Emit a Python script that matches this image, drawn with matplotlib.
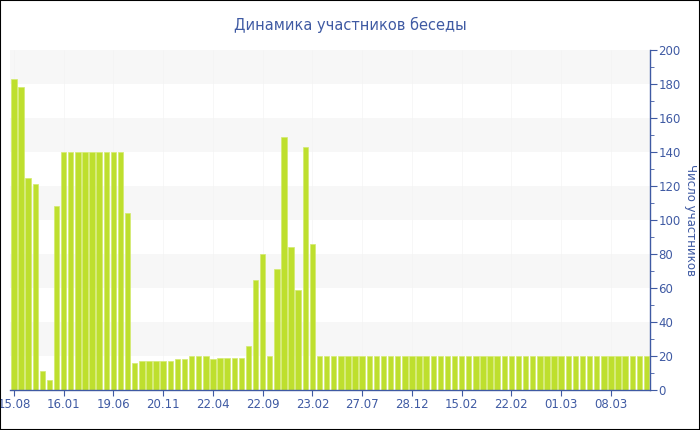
import matplotlib.pyplot as plt
from matplotlib.ticker import MultipleLocator
from matplotlib.patches import Rectangle

# participants per period
counts = [183, 178, 125, 121, 11, 6, 108, 140, 140, 140,
          140, 140, 140, 140, 140, 140, 104, 16, 17, 17,
          17, 17, 17, 18, 18, 20, 20, 20, 18, 19,
          19, 19, 19, 26, 65, 80, 20, 71, 149, 84,
          59, 143, 86] + [20] * 47
tick_pos = [0, 7, 14, 21, 28, 35, 42, 49, 56, 63, 70, 77, 84]
tick_labels = ["15.08", "16.01", "19.06", "20.11", "22.04", "22.09", "23.02",
               "27.07", "28.12", "15.02", "22.02", "01.03", "08.03"]

blue = "#3f5aa3"
bar_color = "#bedf2e"

plt.rcParams["font.family"] = ["DejaVu Sans"]
fig = plt.figure(figsize=(7, 4.3), dpi=100)
ax = fig.add_axes([10 / 700, 40 / 430, 640 / 700, 340 / 430])

# alternating background bands
for lo in range(20, 200, 40):
    ax.axhspan(lo, lo + 20, color="#f7f7f7", zorder=0, lw=0)
for p in tick_pos:
    ax.axvline(p, color="#f4f4f4", lw=0.5, zorder=0.5)

x = list(range(len(counts)))
ax.bar(x, counts, width=0.76, color=bar_color, edgecolor="#d3ea6e",
       linewidth=0.5, zorder=2)

ax.set_xlim(-0.55, len(counts) - 0.5)
ax.set_ylim(0, 200)

ax.yaxis.tick_right()
ax.yaxis.set_label_position("right")
ax.yaxis.set_major_locator(MultipleLocator(20))
ax.yaxis.set_minor_locator(MultipleLocator(10))
ax.set_xticks(tick_pos)
ax.set_xticklabels(tick_labels)

for side in ["left", "top"]:
    ax.spines[side].set_visible(False)
for side in ["right", "bottom"]:
    ax.spines[side].set_color(blue)
    ax.spines[side].set_linewidth(1)

ax.tick_params(axis="y", which="major", colors=blue, labelsize=8.5, length=5, pad=1)
ax.tick_params(axis="y", which="minor", colors=blue, length=3)
ax.tick_params(axis="x", colors=blue, labelsize=8.5, length=4, pad=2)

ax.set_ylabel("Число участников", color=blue, fontsize=8.5, rotation=270,
              va="center")
ax.yaxis.set_label_coords((690 - 10) / 640, 0.5)
fig.text(0.5, 1 - 25 / 430, "Динамика участников беседы", color=blue,
         fontsize=10.5, ha="center", va="center")

fig.patches.append(Rectangle((0, 0), 1, 1, transform=fig.transFigure,
                             fill=False, edgecolor="black", lw=1.5))

fig.savefig("out.png", dpi=100)
